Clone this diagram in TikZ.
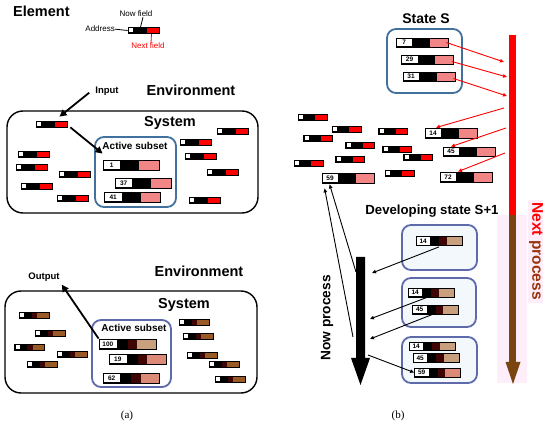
\documentclass[tikz,border=0pt]{standalone}
\usepackage{fontspec}
\setmainfont{Liberation Sans}
\newfontfamily\capfont{Liberation Serif}
\usepackage{tikz}
\usetikzlibrary{arrows.meta,calc}
\definecolor{elred}{HTML}{FF0000}
\definecolor{elpink}{HTML}{F28585}
\definecolor{eltan}{HTML}{C9A07E}
\definecolor{elsalmon}{HTML}{DC8A78}
\definecolor{elmaroon}{HTML}{3F0505}
\definecolor{elbrown}{HTML}{9A5A26}
\definecolor{subblue}{HTML}{41719C}
\definecolor{devblue}{HTML}{5E6AAA}
\definecolor{devfill}{HTML}{F3F8FD}
\definecolor{nextbrown}{HTML}{7A4510}
\definecolor{pinkhaze}{HTML}{FDEEFA}

\begin{document}
\begin{tikzpicture}[x=1pt,y=-1pt,
  ttl/.style={font=\fontsize{14.5}{16}\selectfont\bfseries,inner sep=0pt},
  sub/.style={font=\fontsize{10}{11}\selectfont\bfseries,inner sep=0pt},
  io/.style={font=\fontsize{9.5}{10}\selectfont\bfseries,inner sep=0pt},
  note/.style={font=\fontsize{8}{9}\selectfont,inner sep=0pt},
  el/.style={rectangle,draw=black,fill=black,line width=0.7pt,inner sep=0pt,
    minimum width=31pt,minimum height=6pt,
    path picture={
      \fill[white] ($(path picture bounding box.north west)+(1.2pt,-1pt)$) rectangle ++(4pt,-4pt);
      \fill[#1] ($(path picture bounding box.north west)!0.6!(path picture bounding box.north east)$) rectangle (path picture bounding box.south east);}},
  el/.default=elred,
  elold/.style={rectangle,draw=black,fill=black,line width=0.7pt,inner sep=0pt,
    minimum width=30pt,minimum height=6pt,
    path picture={
      \fill[white] ($(path picture bounding box.north west)+(1.2pt,-1pt)$) rectangle ++(4pt,-4pt);
      \fill[elmaroon] ($(path picture bounding box.north west)!0.42!(path picture bounding box.north east)$) rectangle ($(path picture bounding box.south west)!0.6!(path picture bounding box.south east)$);
      \fill[elbrown] ($(path picture bounding box.north west)!0.6!(path picture bounding box.north east)$) rectangle (path picture bounding box.south east);}},
  cell/.style={rectangle,draw=black,fill=black,line width=0.8pt,inner sep=0pt,
    minimum width=52pt,minimum height=10pt,
    path picture={
      \fill[white] ($(path picture bounding box.north west)+(0.9pt,-0.9pt)$) rectangle ($(path picture bounding box.south west)!0.31!(path picture bounding box.south east)+(0pt,0.9pt)$);
      \fill[elpink] ($(path picture bounding box.north west)!0.65!(path picture bounding box.north east)$) rectangle (path picture bounding box.south east);
      \node[font=\fontsize{6.5}{7}\selectfont\bfseries,inner sep=0pt] at ($(path picture bounding box.west)!0.155!(path picture bounding box.east)$) {#1};}},
  cellold/.style 2 args={rectangle,draw=black,fill=black,line width=0.8pt,inner sep=0pt,
    minimum width=46pt,minimum height=9pt,
    path picture={
      \fill[white] ($(path picture bounding box.north west)+(0.9pt,-0.9pt)$) rectangle ($(path picture bounding box.south west)!0.31!(path picture bounding box.south east)+(0pt,0.9pt)$);
      \fill[elmaroon] ($(path picture bounding box.north west)!0.5!(path picture bounding box.north east)$) rectangle ($(path picture bounding box.south west)!0.67!(path picture bounding box.south east)$);
      \fill[#2] ($(path picture bounding box.north west)!0.67!(path picture bounding box.north east)$) rectangle (path picture bounding box.south east);
      \node[font=\fontsize{6.5}{7}\selectfont\bfseries,inner sep=0pt] at ($(path picture bounding box.west)!0.155!(path picture bounding box.east)$) {#1};}},
  sysbox/.style={rectangle,rounded corners=16pt,draw=black,line width=1.4pt},
  subbox/.style={rectangle,rounded corners=9pt,draw=subblue,line width=1.8pt,fill=white},
  devbox/.style={rectangle,rounded corners=9pt,draw=devblue,line width=1.8pt,fill=devfill},
  bigarr/.style={-{Triangle[length=7pt,width=7pt]},line width=1.8pt},
  redarr/.style={-{Triangle[length=4pt,width=3.5pt]},elred,line width=0.9pt},
  thinarr/.style={-{Triangle[length=4pt,width=3.5pt]},black,line width=0.9pt}]
  \useasboundingbox (0,0) rectangle (550,425);

  % (a) element legend
  \node[ttl,anchor=base west] (elt) at (13,17) {Element};
  \node[el] (leg) at (143.5,30.5) {};
  \node[note,anchor=base east] (addr) at (115,32) {Address};
  \node[note,anchor=base] (nowf) at (136,17) {Now field};
  \node[note,anchor=base,text=elred] (nextf) at (148,49) {Next field};
  \draw[line width=0.8pt] (addr.east) -- (leg.west);
  \draw[line width=0.8pt] ([xshift=7pt]nowf.south) -- ([xshift=-3pt]leg.north);
  \draw[elred,line width=0.8pt] ([xshift=8pt]leg.south) -- ([xshift=3pt]nextf.north);

  % (a) top: input
  \node[sysbox,minimum width=251,minimum height=102] (sysA) at (132.5,162) {};
  \node[subbox,minimum width=81,minimum height=70] (subA) at (135.5,172) {};
  \node[ttl,anchor=base] (envA) at (191,95.5) {Environment};
  \node[ttl,anchor=base] (sysAt) at (170,127) {System};
  \node[sub,anchor=base] (actA) at (135,150) {Active subset};
  \node[io,anchor=base] (inp) at (107,94) {Input};
  \node[el] (in0) at (51.5,124) {};
  \node[el] (a1) at (33.5,154) {};
  \node[el] (a2) at (31.5,167) {};
  \node[el] (a3) at (36.5,186) {};
  \node[el] (a4) at (74.5,174) {};
  \node[el] (a5) at (72.5,198) {};
  \node[el] (a6) at (232.5,131) {};
  \node[el] (a7) at (195.5,142) {};
  \node[el] (a8) at (200.5,156) {};
  \node[el] (a9) at (222.5,172) {};
  \node[el] (a10) at (204.5,200) {};
  \node[cell=1,minimum width=56] (c1) at (131,165) {};
  \node[cell=37,minimum width=56] (c37) at (143,183) {};
  \node[cell=41,minimum width=56] (c41) at (132.5,197) {};
  \draw[bigarr] ([xshift=-6pt,yshift=-1pt]inp.west) -- ([xshift=8pt,yshift=4pt]in0.north);
  \draw[bigarr] ([xshift=3pt]in0.south east) -- ([yshift=6pt]c1.north west);

  % (a) bottom: output
  \node[sysbox,minimum width=252,minimum height=102] (sysB) at (131,342) {};
  \node[subbox,draw=devblue,minimum width=79,minimum height=67] (subB) at (131.5,353.5) {};
  \node[ttl,anchor=base] (envB) at (199,276.5) {Environment};
  \node[ttl,anchor=base] (sysBt) at (184,308.5) {System};
  \node[sub,anchor=base] (actB) at (134,331.5) {Active subset};
  \node[io,anchor=base] (outp) at (44,279.5) {Output};
  \node[elold] (b1) at (34,315) {};
  \node[elold] (b2) at (50,333) {};
  \node[elold] (b3) at (29.5,347) {};
  \node[elold] (b4) at (72,354) {};
  \node[elold] (b5) at (42,364) {};
  \node[elold] (b6) at (194,322) {};
  \node[elold] (b7) at (198,336) {};
  \node[elold] (b8) at (202,355) {};
  \node[elold] (b9) at (224,364) {};
  \node[elold] (b10) at (230,379) {};
  \node[cellold={100}{eltan},minimum width=57,minimum height=10] (c100) at (127.5,344) {};
  \node[cellold={19}{elsalmon},minimum width=57,minimum height=10] (c19) at (137.5,359) {};
  \node[cellold={62}{elsalmon},minimum width=56,minimum height=10] (c62) at (131,378) {};
  \draw[bigarr] (c100.north west) -- ([xshift=2pt,yshift=-3pt]outp.south east);

  % (b) state S and next process
  \fill[pinkhaze] (497,215) rectangle (527,383);
  \fill[pinkhaze] (528,200) rectangle (543,303);
  \fill[elred] (509,35) rectangle (516,215);
  \fill[nextbrown] (509,215) rectangle (516,362);
  \fill[nextbrown] (505.5,362) -- (520.5,362) -- (513,384) -- cycle;
  \node[font=\fontsize{15.5}{17}\selectfont\bfseries,rotate=-90,inner sep=0pt] (nextp) at (536,251)
    {\textcolor{elred}{Next} \textcolor{nextbrown!75!elred}{process}};
  \coordinate (r1) at (504,62);
  \coordinate (r2) at (507,77);
  \coordinate (r3) at (507,96);
  \coordinate (r4) at (504,108);
  \coordinate (r5) at (506,128);
  \coordinate (r6) at (505,153);

  \node[subbox,minimum width=75,minimum height=64] (stS) at (424.5,61) {};
  \node[font=\fontsize{14}{15}\selectfont\bfseries,inner sep=0pt,anchor=base] (stSt) at (426,23.3) {State S};
  \node[cell=7,minimum height=9] (c7) at (422,42.5) {};
  \node[cell=29,minimum height=9] (c29) at (427.5,59.5) {};
  \node[cell=31,minimum height=9] (c31) at (429,76.5) {};
  \node[el,minimum width=29] (s1) at (312.5,117) {};
  \node[el,minimum width=29] (s2) at (346.5,129) {};
  \node[el,minimum width=29] (s3) at (318,138) {};
  \node[el,minimum width=29] (s4) at (393,131) {};
  \node[el,minimum width=29] (s5) at (360,145) {};
  \node[el,minimum width=29] (s6) at (397,149) {};
  \node[el,minimum width=29] (s7) at (418,157) {};
  \node[el,minimum width=29] (s8) at (350,159) {};
  \node[el,minimum width=29] (s9) at (308.5,163) {};
  \node[el,minimum width=29] (s10) at (399.5,173) {};
  \node[cell=14] (c14) at (451,133) {};
  \node[cell=45,minimum height=9] (c45) at (469,151.5) {};
  \node[cell=72] (c72) at (466,177) {};
  \node[cell=59] (c59) at (348,178) {};
  \draw[redarr] ([xshift=-2pt]c7.east) -- (r1);
  \draw[redarr] ([xshift=-2pt,yshift=-2pt]c29.east) -- (r2);
  \draw[redarr] ([xshift=-2pt,yshift=-2pt]c31.east) -- (r3);
  \draw[redarr] (r4) -- ([xshift=-15pt]c14.north);
  \draw[redarr] (r5) -- ([xshift=-18pt]c45.north);
  \draw[redarr] (r6) -- ([xshift=-8pt]c72.north);

  % (b) developing state S+1 and now process
  \node[font=\fontsize{13.2}{15}\selectfont\bfseries,inner sep=0pt,anchor=base] (devt) at (432,214.5) {Developing state S+1};
  \node[devbox,minimum width=75,minimum height=45] (dv1) at (439.5,247.5) {};
  \node[devbox,minimum width=74,minimum height=49] (dv2) at (439,302.5) {};
  \node[devbox,minimum width=75,minimum height=46] (dv3) at (439.5,360) {};
  \node[cellold={14}{eltan}] (d1) at (439,241) {};
  \node[cellold={14}{eltan}] (d2a) at (431,292.5) {};
  \node[cellold={45}{eltan}] (d2b) at (435.5,309.5) {};
  \node[cellold={14}{eltan},minimum height=8] (d3a) at (432,346.5) {};
  \node[cellold={45}{eltan}] (d3b) at (436,358) {};
  \node[cellold={59}{elsalmon}] (d3c) at (437.5,372.5) {};
  \fill (356,257) -- (365,257) -- (365,358) -- (370,358) -- (360.5,385) -- (351,358) -- (356,358) -- cycle;
  \node[font=\fontsize{13.7}{15}\selectfont\bfseries,rotate=90,inner sep=0pt] (nowp) at (327,318) {Now process};
  \coordinate (n1) at (356,272);
  \coordinate (n2) at (353,337);
  \coordinate (n3) at (372,273);
  \coordinate (n4) at (370,319);
  \coordinate (n5) at (370,339);
  \coordinate (n6) at (368,355);
  \draw[thinarr] (n1) -- ([xshift=8pt,yshift=-1pt]c59.south west);
  \draw[thinarr] (n2) -- ([xshift=3pt,yshift=-5pt]c59.south west);
  \draw[thinarr] ([yshift=-1pt]d1.south) -- (n3);
  \draw[thinarr] ([xshift=-4pt]d2a.south) -- (n4);
  \draw[thinarr] ([xshift=-3pt]d2b.south) -- (n5);
  \draw[thinarr] (n6) -- (d3c.west);

  % captions
  \node[font=\capfont\fontsize{11}{12}\selectfont,anchor=base] (capa) at (127,419) {(a)};
  \node[font=\capfont\fontsize{11}{12}\selectfont,anchor=base] (capb) at (398,419) {(b)};
\end{tikzpicture}
\end{document}
